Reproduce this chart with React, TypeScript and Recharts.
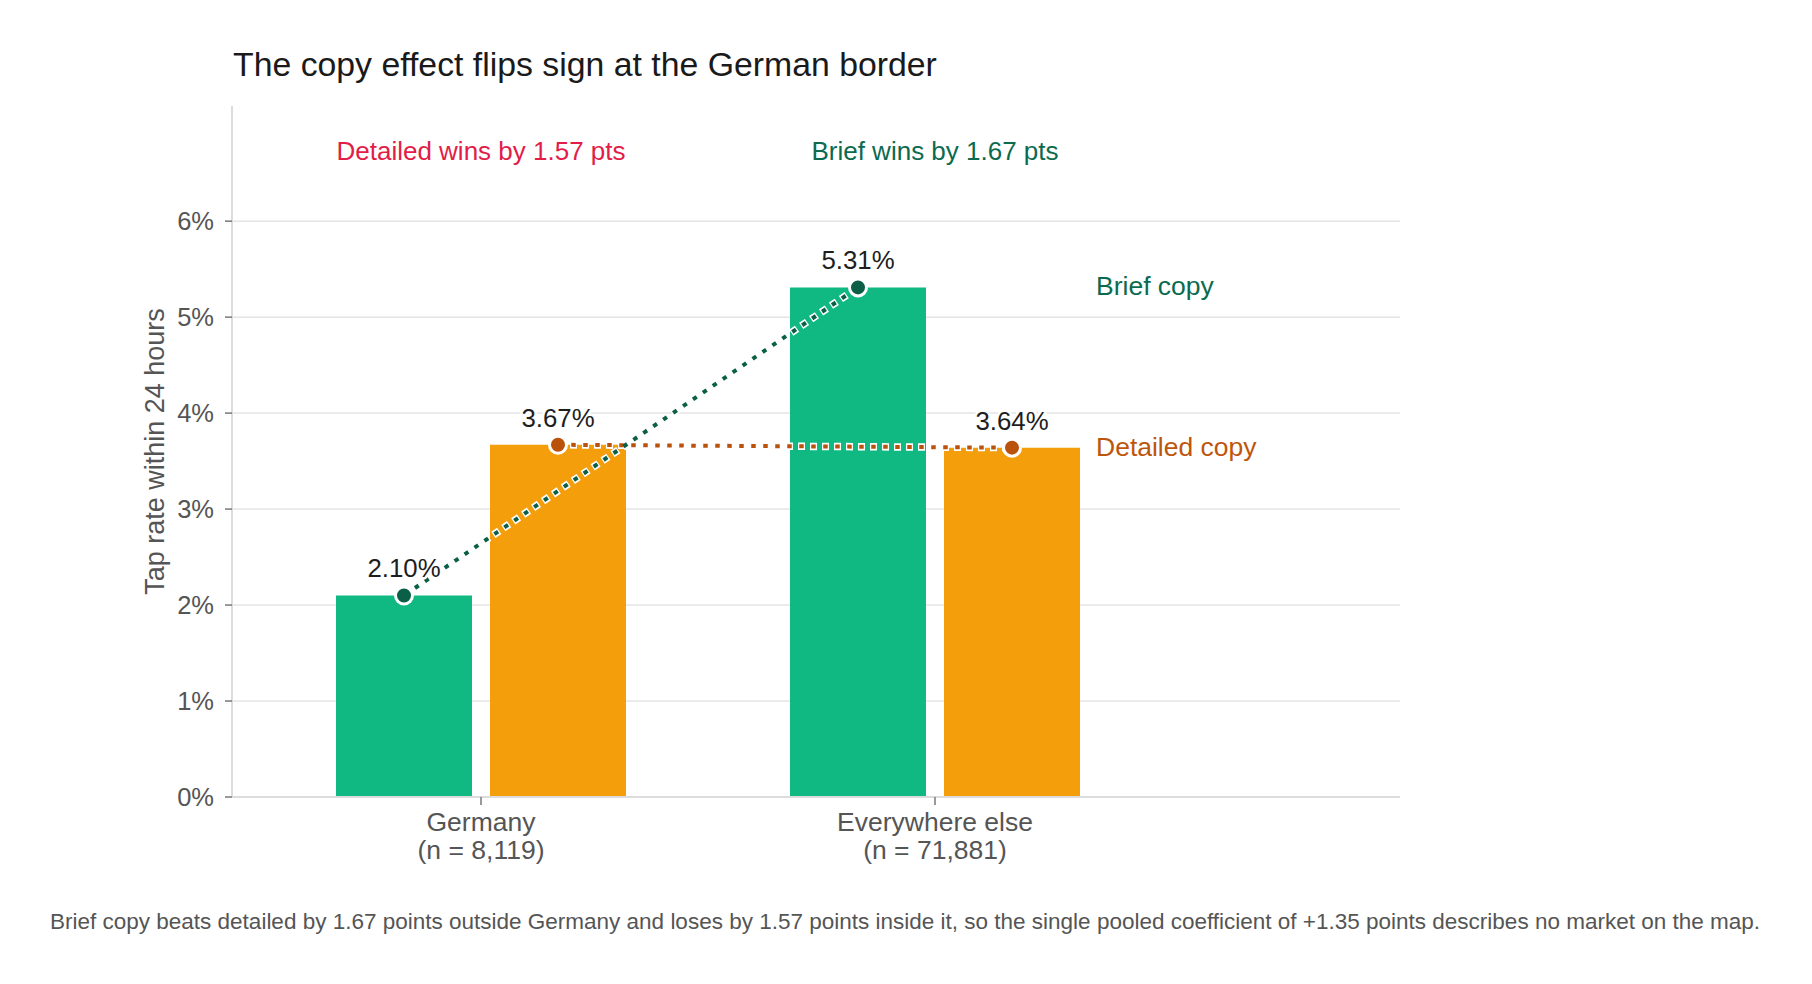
import { ComposedChart, Bar, Line, XAxis, YAxis, CartesianGrid, ReferenceDot } from 'recharts';

const REGIONS = ['Germany', 'Everywhere else'];
const SAMPLE_SIZES = [8119, 71881];
const BRIEF_RATES = [2.1, 5.31];
const DETAILED_RATES = [3.67, 3.64];
const Y_TICKS = [0, 1, 2, 3, 4, 5, 6];
const Y_MAX = 7.2;
const SERIES_NAMES = ['Brief copy', 'Detailed copy'];

const TITLE = 'The copy effect flips sign at the German border';
const Y_LABEL = 'Tap rate within 24 hours';
const CAPTION =
  'Brief copy beats detailed by 1.67 points outside Germany and loses by 1.57 points inside it, so the single pooled coefficient of +1.35 points describes no market on the map.';

const W = 1812;
const H = 984;
const MARGIN = { top: 106, right: 412, bottom: 107, left: 132 };
const Y_AXIS_W = 100;
const X_AXIS_H = 80;
const X_PAD = { left: 22, right: 238 };
const BAR_SIZE = 136;
const BAR_GAP = 18;
const PLOT_W = W - MARGIN.left - MARGIN.right - Y_AXIS_W;
const PLOT_H = H - MARGIN.top - MARGIN.bottom - X_AXIS_H;
const BAND_W = (PLOT_W - X_PAD.left - X_PAD.right) / REGIONS.length;
// bar centre offset from the category centre, in category units
const BAR_OFFSET = (BAR_SIZE + BAR_GAP) / 2 / BAND_W;
const END_LABEL_X = 1096;
const ANNOTATION_LEVEL = 6.64;

const FONT = '"Liberation Sans", Arial, Helvetica, sans-serif';
const BRIEF_BAR = '#10b981';
const DETAILED_BAR = '#f59e0b';
const BRIEF_DARK = '#0a5f46';
const DETAILED_DARK = '#b9520a';
const BRIEF_TEXT = '#0c6a4e';
const DETAILED_TEXT = '#bd560c';
const LOSS_RED = '#e11d48';
const AXIS_GREY = '#dcdcdc';
const TICK_GREY = '#555';

const barData = REGIONS.map((region, i) => ({
  region,
  n: SAMPLE_SIZES[i],
  brief: BRIEF_RATES[i],
  detailed: DETAILED_RATES[i],
}));
const briefPoints = BRIEF_RATES.map((value, i) => ({ pos: i - BAR_OFFSET, value }));
const detailedPoints = DETAILED_RATES.map((value, i) => ({ pos: i + BAR_OFFSET, value }));

const gaps = REGIONS.map((_, i) => BRIEF_RATES[i] - DETAILED_RATES[i]);
const annotations = gaps.map((g) =>
  g < 0
    ? { text: `Detailed wins by ${Math.abs(g).toFixed(2)} pts`, color: LOSS_RED }
    : { text: `Brief wins by ${g.toFixed(2)} pts`, color: BRIEF_TEXT }
);

const makeDot = (color: string, textColor: string, name: string, count: number) => (props: any) => {
  const { cx, cy, index, payload } = props;
  if (cx == null || cy == null) return <g key={`d-${name}-${index}`} />;
  return (
    <g key={`d-${name}-${index}`}>
      <circle cx={cx} cy={cy} r={8.5} fill={color} stroke="#fff" strokeWidth={3} />
      <text
        x={cx}
        y={cy - 18}
        textAnchor="middle"
        fontSize={25.8}
        fontFamily={FONT}
        fill="#1e1e1e"
        stroke="#fff"
        strokeWidth={5}
        paintOrder="stroke"
        strokeLinejoin="round"
      >
        {`${payload.value.toFixed(2)}%`}
      </text>
      {index === count - 1 && (
        <text x={END_LABEL_X} y={cy + 8} fontSize={26.5} fontFamily={FONT} fill={textColor}>
          {name}
        </text>
      )}
    </g>
  );
};

const RegionTick = (props: any) => {
  const { x, y, index } = props;
  return (
    <text x={x} y={y} textAnchor="middle" fontSize={26.5} fontFamily={FONT} fill={TICK_GREY}>
      <tspan x={x} dy={24}>{REGIONS[index]}</tspan>
      <tspan x={x} dy={28}>{`(n = ${SAMPLE_SIZES[index].toLocaleString('en-US')})`}</tspan>
    </text>
  );
};

const YLabel = (props: any) => {
  const vb = props.viewBox || {};
  const cy = vb.y + vb.height / 2;
  const x = 164;
  return (
    <text
      x={x}
      y={cy}
      transform={`rotate(-90 ${x} ${cy})`}
      textAnchor="middle"
      fontSize={27}
      fontFamily={FONT}
      fill={TICK_GREY}
    >
      {Y_LABEL}
    </text>
  );
};

// grid only at the labelled ticks, not along the top edge of the plot
const gridRows = (p: any) => {
  const top = p?.offset?.top ?? MARGIN.top;
  const h = p?.offset?.height ?? PLOT_H;
  return Y_TICKS.map((t) => top + h * (1 - t / Y_MAX));
};

export default function App() {
  return (
    <div style={{ position: 'absolute', left: 0, top: 0, width: W, height: H, background: '#fff' }}>
      <ComposedChart
        width={W}
        height={H}
        data={barData}
        margin={MARGIN}
        barGap={BAR_GAP}
        barSize={BAR_SIZE}
        style={{ fontFamily: FONT }}
      >
        <CartesianGrid
          vertical={false}
          stroke="#e4e4e4"
          strokeWidth={1.5}
          horizontalCoordinatesGenerator={gridRows}
        />
        <XAxis
          dataKey="region"
          height={X_AXIS_H}
          padding={X_PAD}
          interval={0}
          tick={<RegionTick />}
          tickSize={8}
          axisLine={{ stroke: AXIS_GREY, strokeWidth: 2 }}
          tickLine={{ stroke: '#777', strokeWidth: 1.5 }}
        />
        <XAxis
          xAxisId="pos"
          dataKey="pos"
          type="number"
          domain={[-0.5, 1.5]}
          padding={X_PAD}
          hide
        />
        <YAxis
          width={Y_AXIS_W}
          domain={[0, Y_MAX]}
          ticks={Y_TICKS}
          tickFormatter={(v: number) => `${v}%`}
          tick={{ fill: TICK_GREY, fontSize: 25.5, fontFamily: FONT }}
          tickSize={7}
          tickMargin={11}
          axisLine={{ stroke: AXIS_GREY, strokeWidth: 2 }}
          tickLine={{ stroke: '#777', strokeWidth: 1.5 }}
          label={<YLabel />}
        />
        <Bar dataKey="brief" fill={BRIEF_BAR} isAnimationActive={false} />
        <Bar dataKey="detailed" fill={DETAILED_BAR} isAnimationActive={false} />
        <Line
          xAxisId="pos"
          data={briefPoints}
          dataKey="value"
          type="linear"
          stroke="#fff"
          strokeWidth={7.5}
          strokeDasharray="7 5"
          dot={false}
          activeDot={false}
          isAnimationActive={false}
        />
        <Line
          xAxisId="pos"
          data={detailedPoints}
          dataKey="value"
          type="linear"
          stroke="#fff"
          strokeWidth={7.5}
          strokeDasharray="7 5"
          dot={false}
          activeDot={false}
          isAnimationActive={false}
        />
        <Line
          xAxisId="pos"
          data={detailedPoints}
          dataKey="value"
          type="linear"
          stroke={DETAILED_DARK}
          strokeWidth={4}
          strokeDasharray="4.5 7.5"
          strokeDashoffset={-1.25}
          dot={makeDot(DETAILED_DARK, DETAILED_TEXT, SERIES_NAMES[1], detailedPoints.length)}
          activeDot={false}
          isAnimationActive={false}
        />
        <Line
          xAxisId="pos"
          data={briefPoints}
          dataKey="value"
          type="linear"
          stroke={BRIEF_DARK}
          strokeWidth={4}
          strokeDasharray="4.5 7.5"
          strokeDashoffset={-1.25}
          dot={makeDot(BRIEF_DARK, BRIEF_TEXT, SERIES_NAMES[0], briefPoints.length)}
          activeDot={false}
          isAnimationActive={false}
        />
        {REGIONS.map((region, i) => (
          <ReferenceDot
            key={region}
            x={region}
            y={ANNOTATION_LEVEL}
            r={1}
            shape={(p: any) => (
              <text x={p.cx} y={p.cy} textAnchor="middle" fontSize={26} fontFamily={FONT} fill={annotations[i].color}>
                {annotations[i].text}
              </text>
            )}
          />
        ))}
      </ComposedChart>
      <svg
        width={W}
        height={H}
        style={{ position: 'absolute', left: 0, top: 0, pointerEvents: 'none' }}
      >
        <text x={233} y={76} fontSize={33.8} fontFamily={FONT} fill="#1a1a1a">
          {TITLE}
        </text>
        <text x={905} y={929} textAnchor="middle" fontSize={22.5} fontFamily={FONT} fill={TICK_GREY}>
          {CAPTION}
        </text>
      </svg>
    </div>
  );
}
